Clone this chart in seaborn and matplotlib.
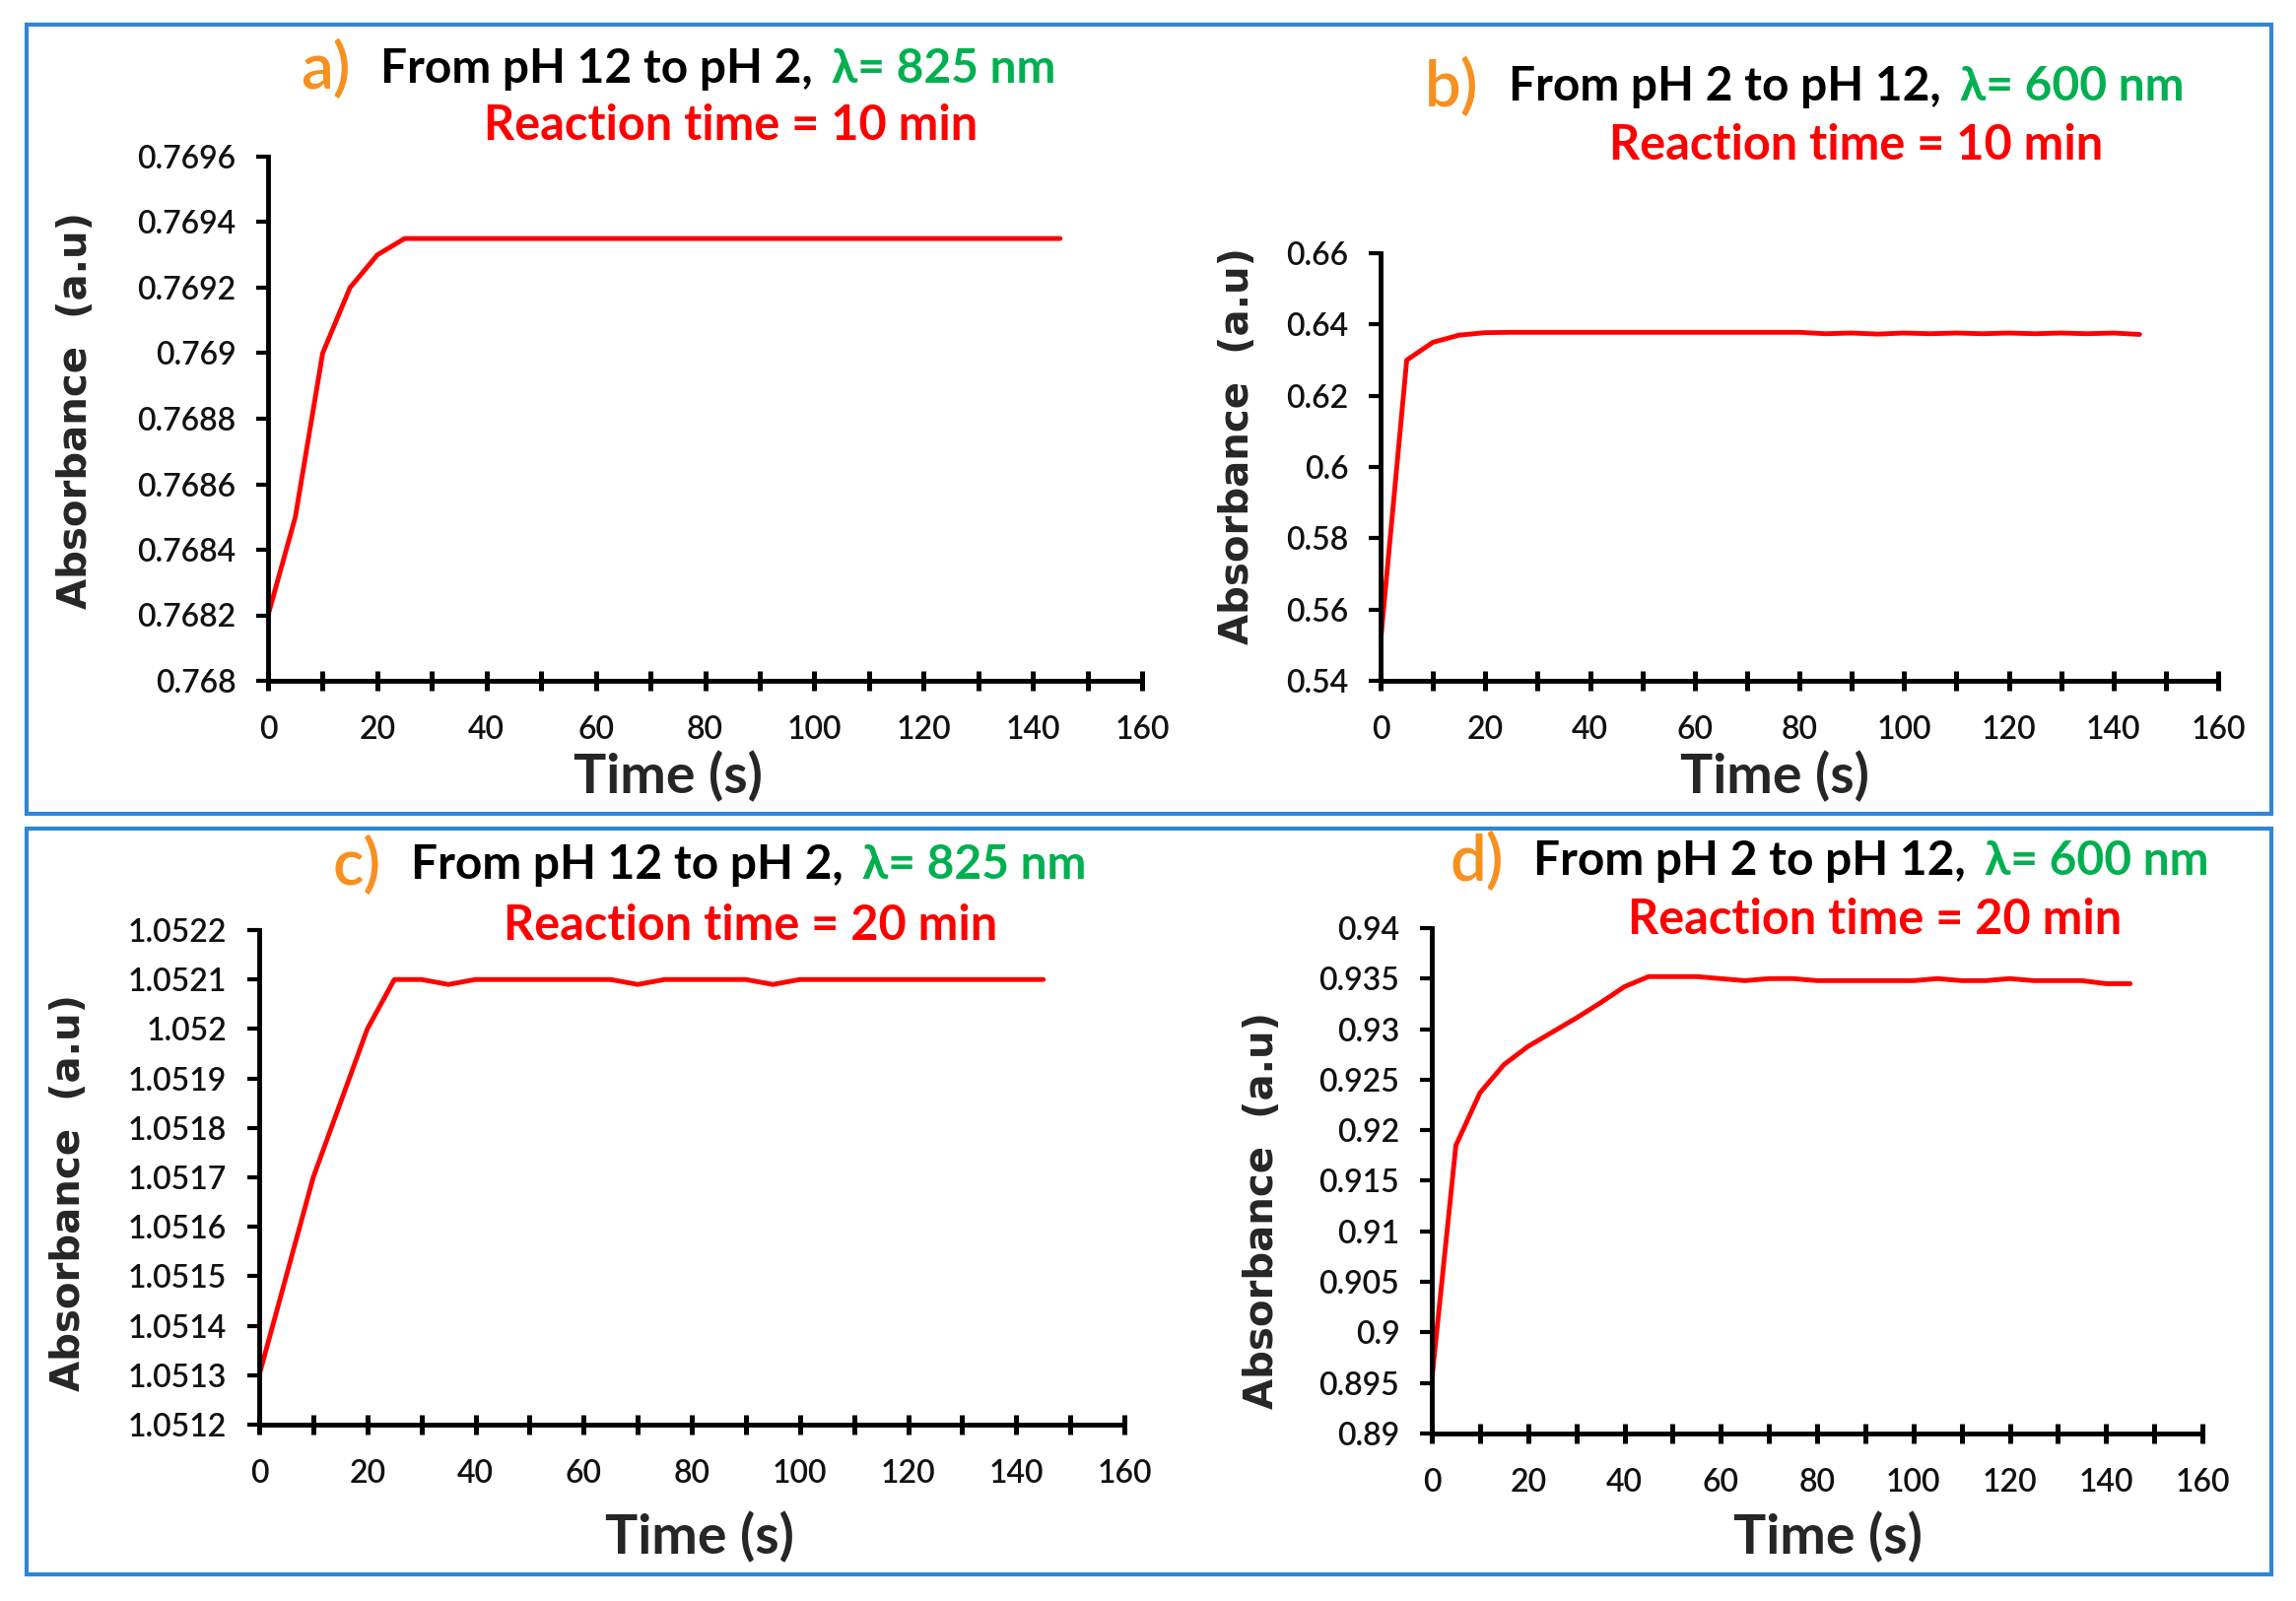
import matplotlib
matplotlib.use("Agg")
import matplotlib.pyplot as plt
import seaborn as sns
import pandas as pd
from matplotlib.patches import Rectangle
from matplotlib.ticker import FixedLocator, MultipleLocator

# ---------------- data ----------------
time_s = [0, 5, 10, 15, 20, 25, 30, 35, 40, 45, 50, 55, 60, 65, 70,
          75, 80, 85, 90, 95, 100, 105, 110, 115, 120, 125, 130, 135, 140, 145]

abs_a = [0.7682, 0.7685, 0.7690, 0.7692, 0.7693, 0.76935, 0.76935, 0.76935, 0.76935, 0.76935,
         0.76935, 0.76935, 0.76935, 0.76935, 0.76935, 0.76935, 0.76935, 0.76935, 0.76935, 0.76935,
         0.76935, 0.76935, 0.76935, 0.76935, 0.76935, 0.76935, 0.76935, 0.76935, 0.76935, 0.76935]

abs_b = [0.5510, 0.6300, 0.6350, 0.6370, 0.6377, 0.6378, 0.6378, 0.6378, 0.6378, 0.6378,
         0.6378, 0.6378, 0.6378, 0.6378, 0.6378, 0.6378, 0.6378, 0.6374, 0.6376, 0.6373,
         0.6376, 0.6374, 0.6376, 0.6374, 0.6376, 0.6374, 0.6376, 0.6374, 0.6376, 0.6372]

abs_c = [1.05130, 1.05150, 1.05170, 1.05185, 1.05200, 1.05210, 1.05210, 1.05209, 1.05210, 1.05210,
         1.05210, 1.05210, 1.05210, 1.05210, 1.05209, 1.05210, 1.05210, 1.05210, 1.05210, 1.05209,
         1.05210, 1.05210, 1.05210, 1.05210, 1.05210, 1.05210, 1.05210, 1.05210, 1.05210, 1.05210]

abs_d = [0.8953, 0.9185, 0.9237, 0.9265, 0.9283, 0.9297, 0.9311, 0.9326, 0.9342, 0.9352,
         0.9352, 0.9352, 0.9350, 0.9348, 0.9350, 0.9350, 0.9348, 0.9348, 0.9348, 0.9348,
         0.9348, 0.9350, 0.9348, 0.9348, 0.9350, 0.9348, 0.9348, 0.9348, 0.9345, 0.9345]

x_ticks = [0, 20, 40, 60, 80, 100, 120, 140, 160]
x_tick_labels = ["0", "20", "40", "60", "80", "100", "120", "140", "160"]

y_ticks_a = [0.768, 0.7682, 0.7684, 0.7686, 0.7688, 0.769, 0.7692, 0.7694, 0.7696]
y_labels_a = ["0.768", "0.7682", "0.7684", "0.7686", "0.7688", "0.769", "0.7692", "0.7694", "0.7696"]
y_ticks_b = [0.54, 0.56, 0.58, 0.60, 0.62, 0.64, 0.66]
y_labels_b = ["0.54", "0.56", "0.58", "0.6", "0.62", "0.64", "0.66"]
y_ticks_c = [1.0512, 1.0513, 1.0514, 1.0515, 1.0516, 1.0517, 1.0518, 1.0519, 1.0520, 1.0521, 1.0522]
y_labels_c = ["1.0512", "1.0513", "1.0514", "1.0515", "1.0516", "1.0517", "1.0518", "1.0519",
              "1.052", "1.0521", "1.0522"]
y_ticks_d = [0.89, 0.895, 0.90, 0.905, 0.91, 0.915, 0.92, 0.925, 0.93, 0.935, 0.94]
y_labels_d = ["0.89", "0.895", "0.9", "0.905", "0.91", "0.915", "0.92", "0.925", "0.93", "0.935", "0.94"]

panel_letters = ["a)", "b)", "c)", "d)"]
title_main = ["From pH 12 to pH 2,", "From pH 2 to pH 12,", "From pH 12 to pH 2,", "From pH 2 to pH 12,"]
title_lambda = ["λ= 825 nm", "λ= 600 nm", "λ= 825 nm", "λ= 600 nm"]
title_time = ["Reaction time = 10 min", "Reaction time = 10 min",
              "Reaction time = 20 min", "Reaction time = 20 min"]

# ---------------- style ----------------
sns.set_style("white")
plt.rcParams["font.family"] = ["Lato", "DejaVu Sans"]

W, H = 2330, 1625
fig = plt.figure(figsize=(W / 100, H / 100), dpi=100)

ORANGE = "#F7901E"
GREEN = "#00B050"
RED = "#FF0000"
BLUE = "#2E86D6"


def fx(px):
    return px / W


def fy(py):
    return 1 - py / H


# outer boxes
for (x0, y0, x1, y1) in [(27, 25, 2305, 826), (27, 841, 2305, 1598)]:
    fig.patches.append(Rectangle((fx(x0), fy(y1)), fx(x1) - fx(x0), fy(y0) - fy(y1),
                                 transform=fig.transFigure, fill=False,
                                 edgecolor=BLUE, linewidth=3.0, zorder=0))

# axes positions in pixels: left, right, top, bottom
boxes = [(272, 1159, 159, 691), (1401, 2251, 257, 691),
         (263, 1141, 944, 1446), (1453, 2235, 942, 1455)]
ylims = [(0.768, 0.7696), (0.54, 0.66), (1.0512, 1.0522), (0.89, 0.94)]
series = [abs_a, abs_b, abs_c, abs_d]
yticks = [y_ticks_a, y_ticks_b, y_ticks_c, y_ticks_d]
ylabels = [y_labels_a, y_labels_b, y_labels_c, y_labels_d]
ylab_pos = [(77, 416), (1256, 453), (70, 1211), (1281, 1229)]
xlab_pos = [(678, 788), (1801, 788), (710, 1560), (1855, 1560)]
# title: letter-left x, line1 center y, line2 center x, line2 center y
title_pos = [(305, 70, 742, 128), (1446, 88, 1884, 147),
             (337, 878, 762, 939), (1471, 874, 1903, 933)]

for i in range(4):
    l, r, t, b = boxes[i]
    ax = fig.add_axes([fx(l), fy(b), fx(r) - fx(l), fy(t) - fy(b)])
    df = pd.DataFrame({"Time (s)": time_s, "Absorbance": series[i]})
    sns.lineplot(data=df, x="Time (s)", y="Absorbance", ax=ax, color=RED,
                 linewidth=3.5, legend=False)
    ax.set_xlim(0, 160)
    ax.set_ylim(*ylims[i])
    for s in ["top", "right"]:
        ax.spines[s].set_visible(False)
    for s in ["left", "bottom"]:
        ax.spines[s].set_linewidth(3.5)
        ax.spines[s].set_color("black")
    ax.xaxis.set_major_locator(FixedLocator(x_ticks))
    ax.set_xticklabels(x_tick_labels)
    ax.xaxis.set_minor_locator(MultipleLocator(10))
    ax.yaxis.set_major_locator(FixedLocator(yticks[i]))
    ax.set_yticklabels(ylabels[i])
    ax.tick_params(axis="x", which="both", direction="inout", length=14, width=3.6,
                   color="black", bottom=True)
    ax.tick_params(axis="x", which="major", labelsize=23, pad=18)
    ax.tick_params(axis="y", which="major", direction="out", length=8.5, width=3.0,
                   color="black", labelsize=23, pad=15, left=True)
    for lab in ax.get_xticklabels() + ax.get_yticklabels():
        lab.set_color("#111111")
        lab.set_fontweight("semibold")

    ax.set_ylabel("Absorbance  (a.u)", fontsize=29, fontweight="bold",
                  family="DejaVu Sans", va="center", ha="center")
    yx, yy = ylab_pos[i]
    ax.yaxis.set_label_coords((yx - l) / (r - l), (b - yy) / (b - t))
    ax.set_xlabel("Time (s)", fontsize=40, fontweight="bold", va="center", ha="center")
    xx, xy = xlab_pos[i]
    ax.xaxis.set_label_coords((xx - l) / (r - l), (b - xy) / (b - t))

    lx, ly, cx, cy = title_pos[i]
    t1 = fig.text(fx(lx), fy(ly), panel_letters[i], color=ORANGE, fontsize=47,
                  fontweight="semibold", ha="left", va="center")
    t2 = ax.annotate(title_main[i], xy=(1, 0.5), xycoords=t1, xytext=(22, 0),
                     textcoords="offset points", ha="left", va="center",
                     fontsize=34.5, fontweight="bold", color="black",
                     annotation_clip=False)
    ax.annotate(title_lambda[i], xy=(1, 0.5), xycoords=t2, xytext=(14, 0),
                textcoords="offset points", ha="left", va="center",
                fontsize=34.5, fontweight="bold", color=GREEN, annotation_clip=False)
    fig.text(fx(cx), fy(cy), title_time[i], color=RED, fontsize=35,
             fontweight="bold", ha="center", va="center")

fig.savefig("out.png", dpi=100)
